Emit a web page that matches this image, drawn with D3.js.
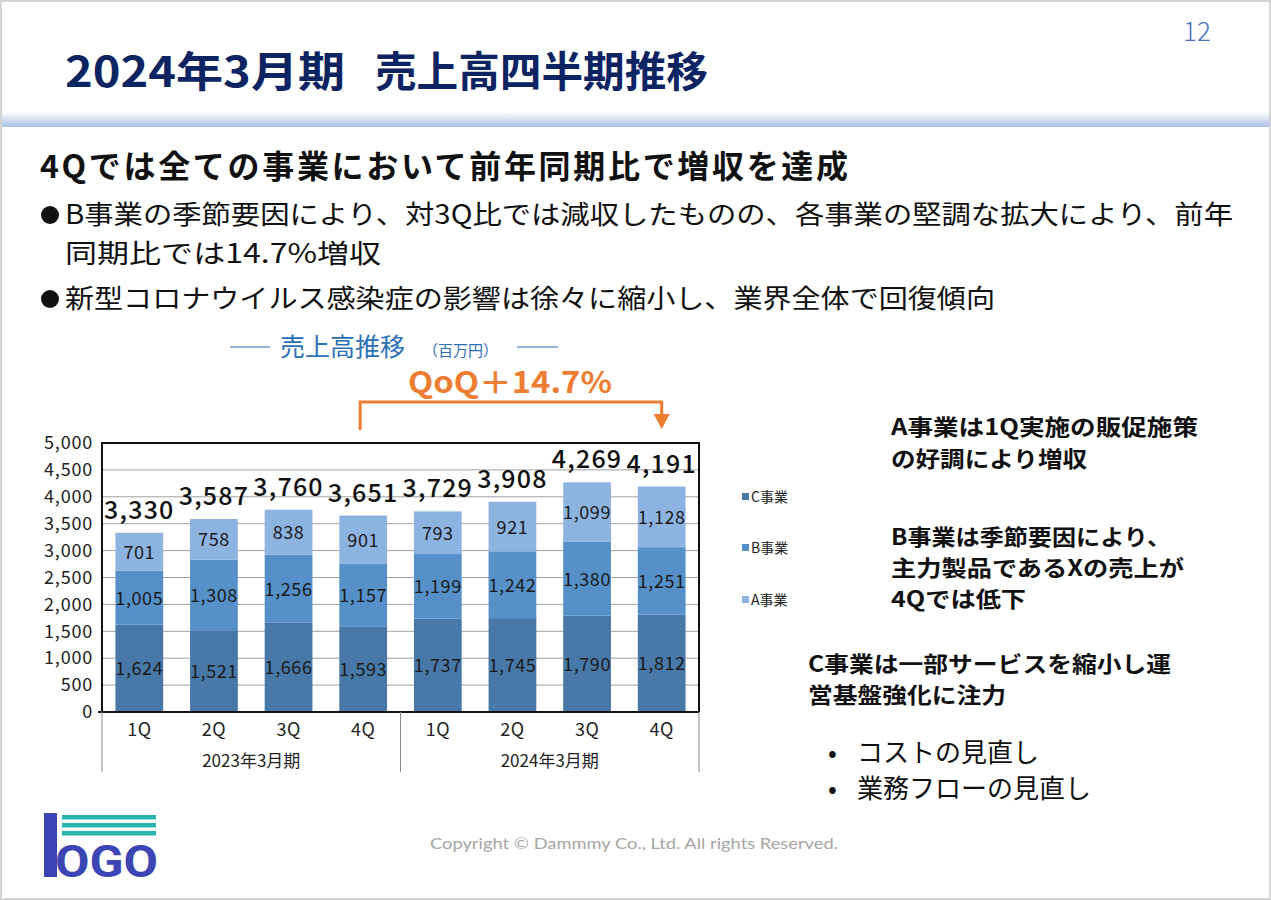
<!DOCTYPE html>
<html><head><meta charset="utf-8">
<script src="https://cdn.jsdelivr.net/npm/d3@7"></script>
<style>
html,body{margin:0;padding:0;background:#fff;}
svg{display:block;font-family:"Noto Sans CJK JP","Noto Sans",sans-serif;}
</style></head>
<body>
<svg id="c" width="1271" height="900"></svg>
<script>
// ---- data ----
const quarters = ["1Q","2Q","3Q","4Q","1Q","2Q","3Q","4Q"];
const fiscalYears = ["2023年3月期","2024年3月期"];
const seriesNames = ["C事業","B事業","A事業"];
const cValues = [1624,1521,1666,1593,1737,1745,1790,1812];
const bValues = [1005,1308,1256,1157,1199,1242,1380,1251];
const aValues = [701,758,838,901,793,921,1099,1128];
const totals = [3330,3587,3760,3651,3729,3908,4269,4191];
const yTicks = [0,500,1000,1500,2000,2500,3000,3500,4000,4500,5000];
const colors = ["#4878A8","#5590C8","#8DB3E0"];

(function(){
const svg = d3.select("#c");

// ---- slide frame & header ----
const defs = svg.append("defs");
const g1 = defs.append("linearGradient").attr("id","band").attr("x1",0).attr("x2",0).attr("y1",0).attr("y2",1);
g1.append("stop").attr("offset","0%").attr("stop-color","#ffffff");
g1.append("stop").attr("offset","100%").attr("stop-color","#a9bfe4");
svg.append("rect").attr("x",0).attr("y",112).attr("width",1271).attr("height",15).attr("fill","url(#band)");
svg.append("rect").attr("x",1).attr("y",1).attr("width",1269).attr("height",898)
  .attr("fill","none").attr("stroke","#d4d4d4").attr("stroke-width",2);

svg.append("text").attr("x",65).attr("y",87).attr("font-size",42).attr("font-weight",700)
  .attr("fill","#0d2463").attr("textLength",280).attr("lengthAdjust","spacingAndGlyphs")
  .text("2024年3月期");
svg.append("text").attr("x",375).attr("y",87).attr("font-size",42).attr("font-weight",700)
  .attr("fill","#0d2463").attr("textLength",333).attr("lengthAdjust","spacingAndGlyphs")
  .text("売上高四半期推移");
svg.append("text").attr("x",1183).attr("y",41).attr("font-size",26).attr("font-weight",300)
  .attr("fill","#4a72c0").text("12");

// ---- headline and bullets ----
svg.append("text").attr("x",40).attr("y",178).attr("font-size",32).attr("font-weight",700)
  .attr("fill","#111").attr("textLength",808).attr("lengthAdjust","spacing")
  .text("4Qでは全ての事業において前年同期比で増収を達成");
const bullets = [
  {t:"B事業の季節要因により、対3Q比では減収したものの、各事業の堅調な拡大により、前年", y:224, w:1168, dot:true},
  {t:"同期比では14.7%増収", y:263, w:316, dot:false},
  {t:"新型コロナウイルス感染症の影響は徐々に縮小し、業界全体で回復傾向", y:308, w:930, dot:true}
];
bullets.forEach(b=>{
  if(b.dot) svg.append("circle").attr("cx",50).attr("cy",b.y-9).attr("r",9).attr("fill","#111");
  svg.append("text").attr("x",65).attr("y",b.y).attr("font-size",26.5).attr("fill","#111")
    .attr("textLength",b.w).attr("lengthAdjust","spacingAndGlyphs").text(b.t);
});

// ---- chart title ----
const titleBlue = "#2a6fb5";
svg.append("line").attr("x1",230).attr("x2",270).attr("y1",347).attr("y2",347).attr("stroke",titleBlue).attr("stroke-width",1);
svg.append("line").attr("x1",517).attr("x2",558).attr("y1",347).attr("y2",347).attr("stroke",titleBlue).attr("stroke-width",1);
svg.append("text").attr("x",280).attr("y",356).attr("font-size",25).attr("fill",titleBlue).text("売上高推移");
svg.append("text").attr("x",423).attr("y",356).attr("font-size",15).attr("fill",titleBlue).text("（百万円）");

// ---- scales ----
const pLeft = 102, pRight = 699, pTop = 443, pBottom = 712;
const x = d3.scaleBand().domain(d3.range(quarters.length)).range([pLeft,pRight]).paddingInner(0.36).paddingOuter(0.18);
const y = d3.scaleLinear().domain([0,5000]).range([pBottom,pTop]);

// gridlines
svg.append("g").selectAll("line").data(yTicks.filter(t=>t>0 && t<5000)).join("line")
  .attr("x1",pLeft).attr("x2",pRight).attr("y1",d=>y(d)).attr("y2",d=>y(d))
  .attr("stroke","#a0a0a0").attr("stroke-width",1);

// y axis
const yAxis = d3.axisLeft(y).tickValues(yTicks).tickFormat(d3.format(",")).tickSize(0).tickPadding(9);
const ya = svg.append("g").attr("transform",`translate(${pLeft},0)`).call(yAxis);
ya.select(".domain").remove();
ya.selectAll("text").attr("font-size",18).attr("letter-spacing",0.8).attr("fill","#222").attr("font-family","Noto Sans CJK JP");

// stacked bars
const rows = quarters.map((q,i)=>({i, C:cValues[i], B:bValues[i], A:aValues[i]}));
const stack = d3.stack().keys(["C","B","A"])(rows);
const layers = svg.append("g").selectAll("g").data(stack).join("g").attr("fill",(d,i)=>colors[i]);
layers.selectAll("rect").data(d=>d).join("rect")
  .attr("x",d=>x(d.data.i)).attr("width",x.bandwidth())
  .attr("y",d=>y(d[1])).attr("height",d=>y(d[0])-y(d[1]));
layers.selectAll("text").data(d=>d).join("text")
  .attr("x",d=>x(d.data.i)+x.bandwidth()/2).attr("y",d=>(y(d[0])+y(d[1]))/2+7)
  .attr("text-anchor","middle").attr("font-size",18).attr("letter-spacing",0.6).attr("fill","#1a1a1a")
  .text(d=>d3.format(",")(d[1]-d[0]));

// totals
svg.append("g").selectAll("text").data(totals).join("text")
  .attr("x",(d,i)=>x(i)+x.bandwidth()/2).attr("y",d=>y(d)-14)
  .attr("text-anchor","middle").attr("font-size",25).attr("letter-spacing",1.2).attr("font-weight",500).attr("fill","#111")
  .text(d=>d3.format(",")(d));

// frame
svg.append("path").attr("d",`M${pLeft},${pBottom}V${pTop}H${pRight}V${pBottom}`).attr("fill","none").attr("stroke","#111").attr("stroke-width",2);
svg.append("line").attr("x1",pLeft-4).attr("x2",pRight).attr("y1",pBottom).attr("y2",pBottom).attr("stroke","#111").attr("stroke-width",2);

// category axis
const xAxis = d3.axisBottom(x).tickFormat(i=>quarters[i]).tickSize(0).tickPadding(11);
const xa = svg.append("g").attr("transform",`translate(0,${pBottom})`).call(xAxis);
xa.select(".domain").remove();
xa.selectAll("text").attr("font-size",18).attr("letter-spacing",0.5).attr("fill","#222").attr("font-family","Noto Sans CJK JP");
const mid = (x(3)+x.bandwidth()+x(4))/2;
[pLeft, mid, pRight].forEach(px=>{
  svg.append("line").attr("x1",px).attr("x2",px).attr("y1",pBottom).attr("y2",772).attr("stroke","#8a8a8a").attr("stroke-width",1);
});
fiscalYears.forEach((fy,k)=>{
  const cx = k===0 ? (pLeft+mid)/2 : (mid+pRight)/2;
  svg.append("text").attr("x",cx).attr("y",767).attr("text-anchor","middle").attr("font-size",17).attr("fill","#222").text(fy);
});

// legend
const legY = [497,548,600];
seriesNames.forEach((n,i)=>{
  svg.append("rect").attr("x",742).attr("y",legY[i]-4).attr("width",7).attr("height",7).attr("fill",colors[i]);
  svg.append("text").attr("x",751).attr("y",legY[i]+5).attr("font-size",14).attr("fill","#222").text(n);
});

// QoQ bracket
const orange = "#ED7D31";
const xl = x(3)+x.bandwidth()/2 - 3, xr = x(7)+x.bandwidth()/2;
svg.append("path").attr("d",`M${xl},430V402H${xr}V418`).attr("fill","none").attr("stroke",orange).attr("stroke-width",3);
svg.append("path").attr("d",`M${xr-8},414L${xr+8},414L${xr},429Z`).attr("fill",orange);
svg.append("text").attr("x",408).attr("y",393).attr("font-size",30).attr("font-weight",700)
  .attr("fill",orange).attr("textLength",204).attr("lengthAdjust","spacingAndGlyphs").text("QoQ＋14.7%");

// right side comments
const notes = [
  {t:"A事業は1Q実施の販促施策", x:891, y:435, w:307},
  {t:"の好調により増収", x:891, y:467, w:196},
  {t:"B事業は季節要因により、", x:891, y:545, w:280},
  {t:"主力製品であるXの売上が", x:891, y:576, w:293},
  {t:"4Qでは低下", x:891, y:607, w:135},
  {t:"C事業は一部サービスを縮小し運", x:808, y:672, w:363},
  {t:"営基盤強化に注力", x:808, y:703, w:198}
];
notes.forEach(n=>{
  svg.append("text").attr("x",n.x).attr("y",n.y).attr("font-size",22).attr("font-weight",700).attr("fill","#111")
    .attr("textLength",n.w).attr("lengthAdjust","spacingAndGlyphs").text(n.t);
});
[["コストの見直し",762],["業務フローの見直し",798]].forEach(([t,yy])=>{
  svg.append("text").attr("x",828).attr("y",yy).attr("font-size",26).attr("fill","#111").text("•");
  svg.append("text").attr("x",857).attr("y",yy).attr("font-size",26).attr("fill","#111").text(t);
});

// footer
svg.append("text").attr("x",430).attr("y",849).attr("font-size",16).attr("fill","#a6a6a6")
  .attr("font-family","Lato, Noto Sans, sans-serif").attr("textLength",408).attr("lengthAdjust","spacingAndGlyphs")
  .text("Copyright © Dammmy Co., Ltd. All rights Reserved.");

// logo
const logoBlue = "#3b45b3", teal = "#27b3ae";
[815,823,831].forEach(yy=>svg.append("rect").attr("x",62).attr("y",yy).attr("width",94).attr("height",4.5).attr("fill",teal));
svg.append("rect").attr("x",44).attr("y",813).attr("width",13).attr("height",64).attr("fill",logoBlue);
svg.append("text").attr("x",55).attr("y",877).attr("font-size",44).attr("font-weight",700).attr("fill",logoBlue)
  .attr("font-family","Roboto, sans-serif").attr("textLength",103).attr("lengthAdjust","spacingAndGlyphs").text("OGO");
})();
</script>
</body></html>
